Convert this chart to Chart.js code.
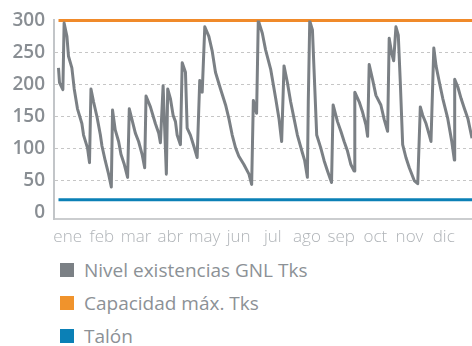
<!DOCTYPE html>
<html lang="es">
<head>
<meta charset="utf-8">
<script src="https://cdn.jsdelivr.net/npm/chart.js@4/dist/chart.umd.min.js"></script>
<style>
    html, body { margin: 0; padding: 0; background: #ffffff; }
    #wrap { position: relative; width: 472px; height: 346px; overflow: hidden; }
    #plot { position: absolute; left: 0; top: 0; width: 472px; height: 250px; }
    #legend {
        position: absolute; left: 60px; top: 253px;
        font-family: 'Open Sans', sans-serif; font-size: 19px; color: #8c9196;
    }
    .item { display: flex; align-items: center; height: 33.4px; white-space: nowrap; }
    .box { width: 14px; height: 14px; margin-right: 10px; flex: none; }
</style>
</head>
<body>
<div id="wrap">
    <div id="plot"><canvas id="chart"></canvas></div>
    <div id="legend"></div>
</div>
<script>
const months = ['ene', 'feb', 'mar', 'abr', 'may', 'jun', 'jul', 'ago', 'sep', 'oct', 'nov', 'dic']
const yTicks = [0, 50, 100, 150, 200, 250, 300]

// day of year / stock level (Tks) at each turning point of the series
const stockDays = [
    7.0, 7.9, 10.9, 12.0, 14.5, 15.9, 18.9, 21.0, 23.9, 27.8, 29.3, 32.8, 34.6,
    35.9, 38.2, 41.2, 44.2, 45.7, 48.6, 51.6, 54.0,
    55.1, 57.5, 60.5, 62.6, 65.6, 68.5,
    70.0, 72.4, 75.4, 78.3, 81.4, 83.7,
    84.9, 88.8, 93.2, 96.2, 97.7, 100.1, 103.0,
    104.2, 106.6, 109.0, 111.1, 112.6, 115.5,
    117.1, 120.0, 121.5, 124.4, 127.4, 130.4,
    132.7, 134.9, 137.2, 140.8, 143.8, 146.7, 151.2, 155.7, 158.6, 161.6, 164.6, 167.5, 172.0, 176.5, 178.9,
    180.4, 183.3, 184.8, 188.4, 191.3, 195.8, 200.3, 203.2, 205.6,
    207.7, 210.7, 213.6, 216.6, 219.6, 224.1, 226.1, 228.5,
    229.3, 230.6, 233.0, 234.4, 236.8, 240.4, 243.4, 246.4, 250.0,
    251.4, 255.3, 258.3, 261.2, 264.2, 267.2, 270.1,
    270.7, 274.6, 277.6, 280.6, 282.1,
    283.5, 286.5, 289.5, 293.9, 296.9, 299.9,
    301.3, 303.5, 305.3, 307.3, 309.4, 311.2, 313.3, 316.2, 319.2, 323.6, 326.7,
    329.0, 331.1, 334.1, 337.0, 338.5,
    341.0, 343.0, 346.0, 349.0, 353.4, 357.0, 359.3,
    359.6, 362.4, 365.3, 368.3, 371.3, 375.0
]
const stockLevels = [
    226, 203, 192, 296, 275, 244, 226, 193, 162, 139, 121, 101, 78,
    193, 173, 150, 122, 104, 81, 60, 40,
    160, 129, 111, 91, 75, 55,
    162, 145, 124, 111, 91, 70,
    182, 165, 139, 124, 109, 198, 60,
    193, 178, 152, 142, 121, 106,
    234, 219, 132, 121, 104, 86,
    206, 188, 290, 275, 252, 219, 193, 168, 147, 121, 101, 88, 75, 60, 44,
    175, 155, 300, 280, 254, 224, 178, 147, 111,
    229, 203, 173, 147, 121, 93, 81, 55,
    173, 299, 285, 224, 121, 101, 81, 65, 47,
    168, 142, 127, 111, 96, 75, 65,
    188, 173, 157, 137, 119,
    231, 208, 183, 168, 145, 127,
    272, 249, 237, 290, 277, 203, 106, 86, 70, 50, 45,
    165, 152, 139, 121, 111,
    257, 229, 203, 178, 147, 111, 82,
    208, 196, 178, 162, 147, 116
]
const capacityLevel = 300
const talonLevel = 20

const firstDay = stockDays[0]
const lastDay = stockDays[stockDays.length - 1]

const chart = new Chart(document.getElementById('chart'), {
    type: 'line',
    data: {
        datasets: [
            {
                label: 'Nivel existencias GNL Tks',
                data: stockDays.map((d, i) => ({ x: d, y: stockLevels[i] })),
                borderColor: '#7b8085',
                backgroundColor: '#7b8085',
                borderWidth: 3,
                borderJoinStyle: 'round',
                pointRadius: 0,
                tension: 0
            },
            {
                label: 'Capacidad máx. Tks',
                data: [{ x: firstDay, y: capacityLevel }, { x: lastDay, y: capacityLevel }],
                borderColor: '#f08a2a',
                backgroundColor: '#f0932c',
                borderWidth: 3,
                pointRadius: 0,
                clip: false
            },
            {
                label: 'Talón',
                data: [{ x: firstDay, y: talonLevel }, { x: lastDay, y: talonLevel }],
                borderColor: '#0b80b6',
                backgroundColor: '#0b80b6',
                borderWidth: 3,
                pointRadius: 0,
                clip: false
            }
        ]
    },
    options: {
        animation: false,
        responsive: true,
        maintainAspectRatio: false,
        layout: { padding: { top: 17, left: 0, right: 0, bottom: 0 } },
        plugins: {
            legend: { display: false },
            tooltip: { enabled: false }
        },
        scales: {
            x: {
                type: 'linear',
                min: 3,
                max: lastDay,
                afterBuildTicks(scale) {
                    scale.ticks = months.map((m, i) => ({ value: 15.2 + 30.42 * i }))
                },
                afterFit(scale) {
                    scale.height = 31
                },
                grid: { display: false, drawTicks: false },
                border: { display: true, color: '#cbcdcf', width: 2 },
                ticks: {
                    autoSkip: false,
                    maxRotation: 0,
                    padding: 8,
                    color: '#b0b4b8',
                    font: { family: 'Open Sans', size: 17, weight: '300' },
                    callback: (value, index) => months[index]
                }
            },
            y: {
                min: -10,
                max: 300,
                afterBuildTicks(scale) {
                    scale.ticks = yTicks.map(v => ({ value: v }))
                },
                afterFit(scale) {
                    scale.width = 54
                },
                grid: {
                    drawTicks: false,
                    lineWidth: 1,
                    color: ctx => (ctx.tick && ctx.tick.value > 0 && ctx.tick.value < 300 ? '#c6c6c6' : 'rgba(0,0,0,0)')
                },
                border: { display: true, color: '#c2c5c8', width: 2, dash: [3, 3] },
                ticks: {
                    padding: 9,
                    color: '#898e93',
                    font: { family: 'Open Sans', size: 19, weight: '600' }
                }
            }
        }
    }
})

// legend rows built from the chart's own datasets
const legendEl = document.getElementById('legend')
chart.data.datasets.forEach(ds => {
    const row = document.createElement('div')
    row.className = 'item'
    const box = document.createElement('span')
    box.className = 'box'
    box.style.background = ds.backgroundColor
    const text = document.createElement('span')
    text.textContent = ds.label
    row.appendChild(box)
    row.appendChild(text)
    legendEl.appendChild(row)
})
</script>
</body>
</html>
